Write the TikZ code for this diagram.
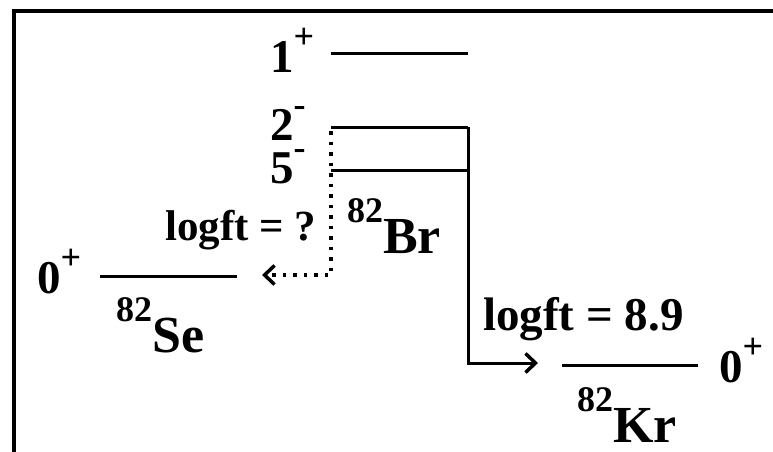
\documentclass[tikz,border=0pt]{standalone}
\usepackage{fontspec}
\setmainfont{Liberation Serif}
\usetikzlibrary{arrows.meta}
\newcommand\fs[1]{\fontsize{#1}{#1}\selectfont}
\newcommand\spin[2]{\fs{47}#1\raisebox{24pt}{\fs{36}#2}}
\newcommand\iso[3]{\fs{#3}\raisebox{31pt}{\fs{36}#1}#2}
\begin{document}
\begin{tikzpicture}[x=1pt,y=-1pt,
  level/.style={line width=3pt},
  frame/.style={line width=4pt},
  txt/.style={anchor=base west,inner sep=0pt,font=\bfseries},
  decay/.style={line width=3pt,-{Straight Barb[length=10pt,width=19pt,line width=3.5pt]}},
  dotdecay/.style={line width=3.5pt,dash pattern=on 3.5pt off 7pt,-{Straight Barb[length=10pt,width=19pt,line width=3.5pt]}}]
\useasboundingbox (0,0) rectangle (773,452);
% frame
\coordinate (fTR) at (773,11);
\coordinate (fBL) at (13.5,452);
\draw[frame] (fTR) -- (13.5,11) -- (fBL);
% levels
\coordinate (L1a) at (331,54);  \coordinate (L1b) at (468,54);
\coordinate (L2a) at (331,127); \coordinate (L2b) at (468,127);
\coordinate (L5a) at (331,170); \coordinate (L5b) at (468,170);
\coordinate (Sea) at (100,276); \coordinate (Seb) at (237,276);
\coordinate (Kra) at (562,365); \coordinate (Krb) at (698,365);
\draw[level] (L1a) -- (L1b);
\draw[level] (L2a) -- (L2b);
\draw[level] (L5a) -- (L5b);
\draw[level] (Sea) -- (Seb);
\draw[level] (Kra) -- (Krb);
% decays
\coordinate (tipKr) at (538,363);
\coordinate (tipSe) at (262,275);
\draw[decay] (L2b) |- (tipKr);
\draw[dotdecay] (331,131) |- (tipSe);
% labels
\node[txt] (s1) at (270,72) {\spin{1}{+}};
\node[txt] (s2) at (270,140) {\spin{2}{-}};
\node[txt] (s5) at (270,183) {\spin{5}{-}};
\node[txt] (s0se) at (37,293) {\spin{0}{+}};
\node[txt] (s0kr) at (719,382) {\spin{0}{+}};
\node[txt] (lq) at (165,240) {\fs{43}logft = ?};
\node[txt] (l89) at (483,330) {\fs{47}logft = 8.9};
\node[txt] (br) at (347,253) {\iso{82}{Br}{52}};
\node[txt] (se) at (116,352) {\iso{82}{Se}{52}};
\node[txt] (kr) at (577,442) {\iso{82}{Kr}{52}};
\end{tikzpicture}
\end{document}
